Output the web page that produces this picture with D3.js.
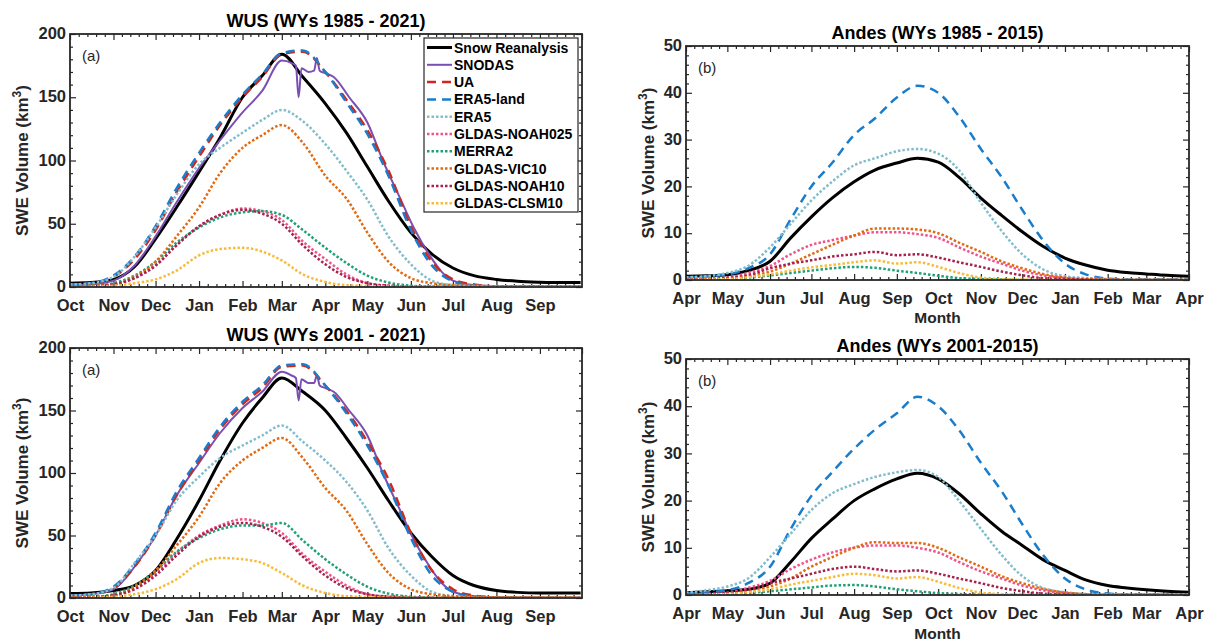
<!DOCTYPE html>
<html>
<head>
<meta charset="utf-8">
<script src="https://cdn.jsdelivr.net/npm/d3@7"></script>
<style>
  body { margin: 0; background: #fff; }
  svg text { font-family: "Liberation Sans", Arial, sans-serif; }
</style>
</head>
<body>
<svg id="chart" width="1212" height="643"></svg>
<script>
// ---------- DATA ----------
// day offsets from the first month of each water year
const leftDays  = [0,15,31,46,61,76,92,107,123,137,151,166,182,197,212,227,243,258,273,288,304,319,335,350,364];
const rightDays = [0,15,30,45,61,76,91,106,122,137,153,168,183,198,214,229,244,259,275,290,306,320,334,349,365];
const snodasDays = [0,15,31,46,61,76,92,107,123,137,151,158,161,163,165,170,174,176,178,182,188,199,212,223,235,245,257,265,273,288,304,335,364];

const leftMonthDays  = [0,31,61,92,123,151,182,212,243,273,304,335,365];
const leftMonthLabels  = ["Oct","Nov","Dec","Jan","Feb","Mar","Apr","May","Jun","Jul","Aug","Sep"];
const rightMonthDays = [0,30,61,91,122,153,183,214,244,275,306,334,365];
const rightMonthLabels = ["Apr","May","Jun","Jul","Aug","Sep","Oct","Nov","Dec","Jan","Feb","Mar","Apr"];

const seriesNames = ["Snow Reanalysis","SNODAS","UA","ERA5-land","ERA5","GLDAS-NOAH025","MERRA2","GLDAS-VIC10","GLDAS-NOAH10","GLDAS-CLSM10"];

// WUS 1985-2021
const wus85_reanalysis = [3,3.5,6,16,38,63,91,118,150,167,184,166,145,122,95,68,43,26,15,9,6,4.5,3.8,3.5,3.5];
const wus85_snodas     = [1.5,2,5,17,40,67,94,116,138,155,179,177,175,150,173,170,171,181,171,169,166,150,130,100,71,47,24,12,5,1.5,0.5,0.3,0.3];
const wus85_ua         = [2,3,8,22,45,75,103,128,150,166,184,186,170,148,124,92,48,20,6,2,0.5,0.2,0.1,0.1,0.1];
const wus85_era5land   = [2,3,9,24,48,78,106,130,152,168,185,187,170,146,121,88,45,17,4.5,1,0.3,0.1,0.1,0.1,0.1];
const wus85_era5       = [2,3,8,24,47,73,97,110,122,132,140,131,113,92,69,40,18,5,1.5,0.8,0.5,0.3,0.3,0.3,0.3];
const wus85_noah025    = [0.3,0.5,2,7,17,33,48,57,62,60,53,36,22,10,3,1,0.4,0.2,0.1,0.1,0.1,0.1,0.1,0.1,0.1];
const wus85_merra2     = [0.3,0.8,3,9,20,35,47,55,59,60,57,45,31,19,9,3.5,1,0.3,0.1,0.1,0.1,0.1,0.1,0.1,0.1];
const wus85_vic10      = [0.5,1,2,8,20,40,63,90,110,120,128,114,88,70,43,20,7,3,1.5,1,0.5,0.3,0.3,0.3,0.3];
const wus85_noah10     = [0.3,0.5,2,7,17,33,48,57,61,58,50,33,18,8,3,1,0.3,0.1,0.1,0.1,0.1,0.1,0.1,0.1,0.1];
const wus85_clsm10     = [0.2,0.3,1,3,6,13,25,30,31,28,21,10,4,1.5,0.8,0.3,0.1,0.1,0.1,0.1,0.1,0.1,0.1,0.1,0.1];

// WUS 2001-2021
const wus01_reanalysis = [3.5,4,6,10,22,47,78,110,140,160,176,165,150,128,104,78,52,33,18,10,6,4.5,4,4,4];
const wus01_snodas     = [2,3,7,25,50,82,108,132,152,165,181,178,176,158,175,172,172,178,170,168,165,150,130,100,71,47,24,12,5,1.5,0.5,0.3,0.3];
const wus01_ua         = [2,3,8,25,50,82,110,135,155,168,185,186,170,150,125,95,52,22,7,2,0.5,0.2,0.1,0.1,0.1];
const wus01_era5land   = [2,3,9,27,52,85,112,137,157,170,186,187,170,148,122,90,48,18,5,1,0.3,0.1,0.1,0.1,0.1];
const wus01_era5       = [2,3,8,28,50,78,97,112,122,130,138,125,110,93,70,40,18,5,1.5,0.8,0.5,0.3,0.3,0.3,0.3];
const wus01_noah025    = [0.3,0.5,2,8,20,36,50,58,63,60,52,35,21,10,3,1,0.4,0.2,0.1,0.1,0.1,0.1,0.1,0.1,0.1];
const wus01_merra2     = [0.3,0.8,3,10,22,37,48,55,58,58,60,46,31,19,9,3.5,1,0.3,0.1,0.1,0.1,0.1,0.1,0.1,0.1];
const wus01_vic10      = [0.5,1,2,9,22,42,65,92,110,120,128,112,88,70,43,20,7,3,1.5,1,0.5,0.3,0.3,0.3,0.3];
const wus01_noah10     = [0.3,0.5,2,7,18,34,49,57,60,57,49,33,18,8,3,1,0.3,0.1,0.1,0.1,0.1,0.1,0.1,0.1,0.1];
const wus01_clsm10     = [0.2,0.3,1,3,7,15,28,32,31,28,20,10,4,1.5,0.8,0.3,0.1,0.1,0.1,0.1,0.1,0.1,0.1,0.1,0.1];

// Andes 1985-2015
const andes85_reanalysis = [0.8,0.9,1.1,2,4,9,13.5,17.5,21,23.5,25,26,25.2,22,17.5,13.8,10.3,7.2,4.7,3.2,2.1,1.6,1.3,1,0.8];
const andes85_era5land   = [0.5,0.8,1.2,2.5,5.5,13,20,25,31,34.5,39,41.5,40,35,28,22,15,8.5,3.5,1.2,0.3,0.1,0.1,0.1,0.1];
const andes85_era5       = [0.6,0.8,1.5,3,7,12,17,21,24.5,26,27.5,28,27,23.5,16.5,10.5,5.5,2.3,0.8,0.4,0.2,0.1,0.1,0.1,0.1];
const andes85_noah025    = [0.1,0.2,0.5,1.5,3,5.5,7.5,8.5,9.5,10.2,10.2,9.8,9,7,5,3.5,2,1,0.4,0.1,0,0,0,0,0];
const andes85_merra2     = [0,0.1,0.2,0.5,1,1.5,2,2.5,2.8,2.6,2,1.5,0.9,0.4,0.2,0.1,0,0,0,0,0,0,0,0,0];
const andes85_vic10      = [0,0.1,0.3,0.8,1.8,3.5,5.5,7.5,9.5,11,11,10.8,10,8,6,4,2.5,1.3,0.5,0.2,0.1,0,0,0,0];
const andes85_noah10     = [0.1,0.2,0.4,1,2.5,3.5,4.2,5,5.5,6,5.3,5.5,4.8,3.8,2.8,1.8,1,0.4,0.2,0.1,0,0,0,0,0];
const andes85_clsm10     = [0,0.1,0.2,0.6,1.2,2,2.7,3.2,3.8,4.2,3.5,3.8,2.8,1.5,0.5,0.2,0.1,0,0,0,0,0,0,0,0];

// Andes 2001-2015
const andes01_reanalysis = [0.5,0.7,0.9,1.2,2.5,7,12,16,20,22.5,24.6,25.8,24.6,21.5,17.2,13.5,10.5,7.5,5.2,3.2,2,1.5,1.1,0.8,0.6];
const andes01_era5land   = [0.3,0.6,1,2.5,6,14,21,26,31,35,38.5,42,40,35,28,22,15,8.5,3.5,1.2,0.3,0.1,0.1,0.1,0.1];
const andes01_era5       = [0.5,1,1.8,3.5,8,13,18,21.5,23.5,25,26,26.5,25,20,14,8.5,4,1.5,0.6,0.2,0.1,0.1,0.1,0.1,0.1];
const andes01_noah025    = [0.1,0.2,0.5,1.5,3,5.5,7.5,9,10,10.5,10.5,10,9,7,5,3.5,2,1,0.4,0.1,0,0,0,0,0];
const andes01_merra2     = [0,0.1,0.2,0.4,0.8,1.2,1.6,2,2.1,1.8,1.2,0.8,0.4,0.2,0.1,0,0,0,0,0,0,0,0,0,0];
const andes01_vic10      = [0,0.1,0.3,0.8,1.8,3.5,6,8,10,11.2,11,11,10,8,6,4,2.5,1.3,0.5,0.2,0.1,0,0,0,0];
const andes01_noah10     = [0.1,0.2,0.4,1,2.5,3.5,4.5,5.5,6,5.5,5,5.2,4.5,3.5,2.5,1.5,0.8,0.3,0.1,0,0,0,0,0,0];
const andes01_clsm10     = [0,0.1,0.2,0.6,1.2,2.2,3,3.8,4.5,4.2,3.5,3.8,2.8,1.5,0.5,0.2,0.1,0,0,0,0,0,0,0,0];

// ---------- STYLES ----------
const styles = {
  "Snow Reanalysis": { color: "#000000", width: 3,   dash: null },
  "SNODAS":          { color: "#7b4fb2", width: 2,   dash: null },
  "UA":              { color: "#d0271d", width: 2.5, dash: "9,6" },
  "ERA5-land":       { color: "#1a7dcc", width: 2.5, dash: "9,6" },
  "ERA5":            { color: "#82bdcc", width: 2.5, dash: "2.5,2" },
  "GLDAS-NOAH025":   { color: "#f0528a", width: 2.5, dash: "2.5,2" },
  "MERRA2":          { color: "#1fa077", width: 2.5, dash: "2.5,2" },
  "GLDAS-VIC10":     { color: "#e26a12", width: 2.5, dash: "2.5,2" },
  "GLDAS-NOAH10":    { color: "#a6224f", width: 2.5, dash: "2.5,2" },
  "GLDAS-CLSM10":    { color: "#f8bc3c", width: 2.5, dash: "2.5,2" }
};

function pairs(days, vals){ return days.map((d,i)=>({d, v: vals[i]})); }

const panels = [
  { title: "WUS (WYs 1985 - 2021)", tag: "(a)", x0: 70, x1: 582, y0: 34, y1: 287, ymax: 200, ystep: 50, yminor: 10,
    monthDays: leftMonthDays, monthLabels: leftMonthLabels, legend: true, monthTitle: false, ylabOff: 42, tickPad: 12,
    series: [
      ["Snow Reanalysis", pairs(leftDays, wus85_reanalysis)],
      ["SNODAS", pairs(snodasDays, wus85_snodas)],
      ["UA", pairs(leftDays, wus85_ua)],
      ["ERA5-land", pairs(leftDays, wus85_era5land)],
      ["ERA5", pairs(leftDays, wus85_era5)],
      ["GLDAS-NOAH025", pairs(leftDays, wus85_noah025)],
      ["MERRA2", pairs(leftDays, wus85_merra2)],
      ["GLDAS-VIC10", pairs(leftDays, wus85_vic10)],
      ["GLDAS-NOAH10", pairs(leftDays, wus85_noah10)],
      ["GLDAS-CLSM10", pairs(leftDays, wus85_clsm10)]
    ]},
  { title: "Andes (WYs 1985 - 2015)", tag: "(b)", x0: 686, x1: 1189, y0: 46, y1: 280, ymax: 50, ystep: 10, yminor: 2,
    monthDays: rightMonthDays, monthLabels: rightMonthLabels, legend: false, monthTitle: true, ylabOff: 32, tickPad: 12, monthY: 323,
    series: [
      ["Snow Reanalysis", pairs(rightDays, andes85_reanalysis)],
      ["ERA5-land", pairs(rightDays, andes85_era5land)],
      ["ERA5", pairs(rightDays, andes85_era5)],
      ["GLDAS-NOAH025", pairs(rightDays, andes85_noah025)],
      ["MERRA2", pairs(rightDays, andes85_merra2)],
      ["GLDAS-VIC10", pairs(rightDays, andes85_vic10)],
      ["GLDAS-NOAH10", pairs(rightDays, andes85_noah10)],
      ["GLDAS-CLSM10", pairs(rightDays, andes85_clsm10)]
    ]},
  { title: "WUS (WYs 2001 - 2021)", tag: "(a)", x0: 70, x1: 582, y0: 348, y1: 598, ymax: 200, ystep: 50, yminor: 10,
    monthDays: leftMonthDays, monthLabels: leftMonthLabels, legend: false, monthTitle: false, ylabOff: 42, tickPad: 12,
    series: [
      ["Snow Reanalysis", pairs(leftDays, wus01_reanalysis)],
      ["SNODAS", pairs(snodasDays, wus01_snodas)],
      ["UA", pairs(leftDays, wus01_ua)],
      ["ERA5-land", pairs(leftDays, wus01_era5land)],
      ["ERA5", pairs(leftDays, wus01_era5)],
      ["GLDAS-NOAH025", pairs(leftDays, wus01_noah025)],
      ["MERRA2", pairs(leftDays, wus01_merra2)],
      ["GLDAS-VIC10", pairs(leftDays, wus01_vic10)],
      ["GLDAS-NOAH10", pairs(leftDays, wus01_noah10)],
      ["GLDAS-CLSM10", pairs(leftDays, wus01_clsm10)]
    ]},
  { title: "Andes (WYs 2001-2015)", tag: "(b)", x0: 686, x1: 1189, y0: 359, y1: 595, ymax: 50, ystep: 10, yminor: 2,
    monthDays: rightMonthDays, monthLabels: rightMonthLabels, legend: false, monthTitle: true, ylabOff: 32, tickPad: 12.5, monthY: 638.5,
    series: [
      ["Snow Reanalysis", pairs(rightDays, andes01_reanalysis)],
      ["ERA5-land", pairs(rightDays, andes01_era5land)],
      ["ERA5", pairs(rightDays, andes01_era5)],
      ["GLDAS-NOAH025", pairs(rightDays, andes01_noah025)],
      ["MERRA2", pairs(rightDays, andes01_merra2)],
      ["GLDAS-VIC10", pairs(rightDays, andes01_vic10)],
      ["GLDAS-NOAH10", pairs(rightDays, andes01_noah10)],
      ["GLDAS-CLSM10", pairs(rightDays, andes01_clsm10)]
    ]}
];

// ---------- DRAW ----------
const svg = d3.select("#chart");
const axisColor = "#262626";

panels.forEach((p, pi) => {
  const x = d3.scaleLinear().domain([0, 365]).range([p.x0, p.x1]);
  const y = d3.scaleLinear().domain([0, p.ymax]).range([p.y1, p.y0]);
  const g = svg.append("g");
  const w = p.x1 - p.x0, h = p.y1 - p.y0;

  g.append("clipPath").attr("id", "clip" + pi)
    .append("rect").attr("x", p.x0).attr("y", p.y0 - 2).attr("width", w).attr("height", h + 1);

  // minor x ticks: 5 per month
  const minorX = [];
  for (let i = 0; i < p.monthDays.length - 1; i++) {
    const a = p.monthDays[i], b = p.monthDays[i + 1];
    for (let k = 1; k < 5; k++) minorX.push(a + (b - a) * k / 5);
  }
  const majorY = d3.range(0, p.ymax + 0.001, p.ystep);
  const minorY = d3.range(0, p.ymax + 0.001, p.yminor).filter(v => Math.abs(v / p.ystep - Math.round(v / p.ystep)) > 1e-6);

  // bottom & top axes (ticks inward)
  const xb = d3.axisBottom(x).tickValues(p.monthDays.slice(0, p.monthLabels.length))
    .tickFormat((d, i) => p.monthLabels[i]).tickSizeInner(-6).tickSizeOuter(0).tickPadding(p.tickPad);
  const gxb = g.append("g").attr("transform", `translate(0,${p.y1})`).call(xb);
  const gxbm = g.append("g").attr("transform", `translate(0,${p.y1})`)
    .call(d3.axisBottom(x).tickValues(minorX).tickFormat("").tickSizeInner(-3).tickSizeOuter(0));
  const gxt = g.append("g").attr("transform", `translate(0,${p.y0})`)
    .call(d3.axisTop(x).tickValues(p.monthDays).tickFormat("").tickSizeInner(-6).tickSizeOuter(0));
  const gxtm = g.append("g").attr("transform", `translate(0,${p.y0})`)
    .call(d3.axisTop(x).tickValues(minorX).tickFormat("").tickSizeInner(-3).tickSizeOuter(0));

  const yl = d3.axisLeft(y).tickValues(majorY).tickFormat(d3.format("d")).tickSizeInner(-6).tickSizeOuter(0).tickPadding(4);
  const gyl = g.append("g").attr("transform", `translate(${p.x0},0)`).call(yl);
  const gylm = g.append("g").attr("transform", `translate(${p.x0},0)`)
    .call(d3.axisLeft(y).tickValues(minorY).tickFormat("").tickSizeInner(-3).tickSizeOuter(0));
  const gyr = g.append("g").attr("transform", `translate(${p.x1},0)`)
    .call(d3.axisRight(y).tickValues(majorY).tickFormat("").tickSizeInner(-6).tickSizeOuter(0));
  const gyrm = g.append("g").attr("transform", `translate(${p.x1},0)`)
    .call(d3.axisRight(y).tickValues(minorY).tickFormat("").tickSizeInner(-3).tickSizeOuter(0));

  [gxb, gxbm, gxt, gxtm, gyl, gylm, gyr, gyrm].forEach(a => {
    a.select(".domain").remove();
    a.selectAll(".tick line").attr("stroke", axisColor).attr("stroke-width", 1.2);
    a.selectAll(".tick text").attr("fill", axisColor).attr("font-size", 16.5).attr("font-weight", "bold")
      .attr("font-family", "Liberation Sans, Arial, sans-serif");
  });
  gyl.selectAll(".tick text").attr("dy", "0.28em");

  // series
  const line = d3.line().x(d => x(d.d)).y(d => y(d.v)).curve(d3.curveMonotoneX);
  const lg = g.append("g").attr("clip-path", `url(#clip${pi})`);
  p.series.forEach(([name, data]) => {
    const s = styles[name];
    lg.append("path").datum(data).attr("d", line)
      .attr("fill", "none").attr("stroke", s.color).attr("stroke-width", s.width)
      .attr("stroke-dasharray", s.dash).attr("stroke-linejoin", "round");
  });

  // box
  g.append("rect").attr("x", p.x0).attr("y", p.y0).attr("width", w).attr("height", h)
    .attr("fill", "none").attr("stroke", axisColor).attr("stroke-width", 1.8);

  // title
  g.append("text").attr("x", (p.x0 + p.x1) / 2).attr("y", p.y0 - 7)
    .attr("text-anchor", "middle").attr("font-size", 18).attr("font-weight", "bold").attr("fill", "#000")
    .text(p.title);

  // panel tag
  g.append("text").attr("x", p.x0 + 12).attr("y", p.y0 + 27)
    .attr("font-size", 15).attr("fill", axisColor).text(p.tag);

  // y label
  const ylab = g.append("text")
    .attr("transform", `translate(${p.x0 - p.ylabOff},${(p.y0 + p.y1) / 2}) rotate(-90)`)
    .attr("text-anchor", "middle").attr("font-size", 17).attr("font-weight", "bold").attr("fill", axisColor);
  ylab.append("tspan").text("SWE Volume (km");
  ylab.append("tspan").attr("font-size", 12).attr("dy", -7).text("3");
  ylab.append("tspan").attr("dy", 7).text(")");

  if (p.monthTitle) {
    g.append("text").attr("x", (p.x0 + p.x1) / 2).attr("y", p.monthY)
      .attr("text-anchor", "middle").attr("font-size", 15.5).attr("font-weight", "bold").attr("fill", axisColor)
      .text("Month");
  }

  if (p.legend) {
    const lx = 424, ly = 38, lw = 154, rowH = 17.3;
    const leg = g.append("g");
    leg.append("rect").attr("x", lx).attr("y", ly).attr("width", lw).attr("height", rowH * seriesNames.length + 1)
      .attr("fill", "#fff").attr("stroke", axisColor).attr("stroke-width", 1.2);
    seriesNames.forEach((name, i) => {
      const s = styles[name];
      const cy = ly + 9.5 + i * rowH;
      leg.append("line").attr("x1", lx + 3).attr("x2", lx + 28).attr("y1", cy).attr("y2", cy)
        .attr("stroke", s.color).attr("stroke-width", s.width).attr("stroke-dasharray", s.dash);
      leg.append("text").attr("x", lx + 30).attr("y", cy + 5)
        .attr("font-size", 14).attr("font-weight", "bold").attr("fill", "#000").text(name);
    });
  }
});
</script>
</body>
</html>
